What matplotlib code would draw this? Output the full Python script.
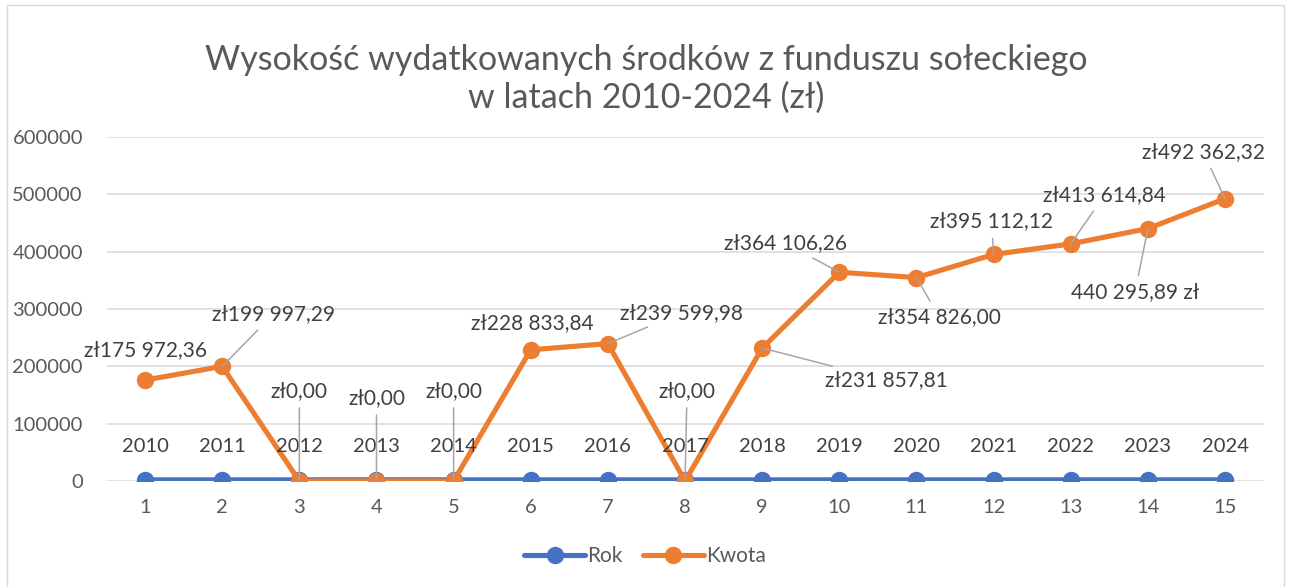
import matplotlib
matplotlib.use("Agg")
import matplotlib.pyplot as plt
from matplotlib.patches import Rectangle

# ---- data ----
idx = list(range(1, 16))
years = [2010, 2011, 2012, 2013, 2014, 2015, 2016, 2017, 2018, 2019, 2020, 2021, 2022, 2023, 2024]
kwota = [175972.36, 199997.29, 0.0, 0.0, 0.0, 228833.84, 239599.98, 0.0,
         231857.81, 364106.26, 354826.00, 395112.12, 413614.84, 440295.89, 492362.32]
kwota_labels = ["zł175 972,36", "zł199 997,29", "zł0,00", "zł0,00", "zł0,00",
                "zł228 833,84", "zł239 599,98", "zł0,00", "zł231 857,81", "zł364 106,26",
                "zł354 826,00", "zł395 112,12", "zł413 614,84", "440 295,89 zł", "zł492 362,32"]
yticks = [0, 100000, 200000, 300000, 400000, 500000, 600000]
title = "Wysokość wydatkowanych środków z funduszu sołeckiego\nw latach 2010-2024 (zł)"

# label offsets in pixels (dx, dy up) and whether a leader line is drawn
offsets = [(0, 30), (51, 52), (0, 90), (0, 83), (0, 90), (2, 27), (74, 31), (2, 90),
           (124, -32), (-54, 29), (23, -40), (-2, 33), (34, 49), (-13, -64), (-22, 47)]
leaders = [False, True, True, True, True, False, True, True,
           True, True, True, True, True, True, True]

plt.rcParams['font.family'] = ['Lato', 'DejaVu Sans']
TXT = '#595959'
LBL = '#404040'
BLUE = '#4472C4'
ORANGE = '#ED7D31'

W, H = 1291, 587
fig = plt.figure(figsize=(W / 100, H / 100), dpi=100)
fig.patches.append(Rectangle((7 / W, -0.01), (1284 - 7) / W, 1 - 5 / H + 0.01,
                             transform=fig.transFigure, fill=False,
                             edgecolor='#D9D9D9', linewidth=1))

ax = fig.add_axes([106.5 / W, 1 - 481 / H, (1263.6 - 106.5) / W, (481 - 137) / H])
ax.set_xlim(0.5, 15.5)
ax.set_ylim(0, 600000)
ax.set_yticks(yticks)
ax.set_yticklabels([str(v) for v in yticks])
ax.set_xticks(idx)
ax.set_xticklabels([str(i) for i in idx])
for s in ax.spines.values():
    s.set_visible(False)
ax.grid(axis='y', color='#D9D9D9', linewidth=1.1)
ax.set_axisbelow(True)
ax.tick_params(axis='both', length=0, labelsize=14.5, colors=TXT)
ax.tick_params(axis='y', pad=17)
ax.tick_params(axis='x', pad=13)

ax.plot(idx, years, color=BLUE, lw=3.7, marker='o', ms=11.5,
        label='Rok', solid_capstyle='round', zorder=3)
ax.plot(idx, kwota, color=ORANGE, lw=3.7, marker='o', ms=11.5, label='Kwota',
        solid_capstyle='round', zorder=4)

for i, yr in zip(idx, years):
    ax.annotate(str(yr), (i, yr), xytext=(0, 33), textcoords='offset pixels',
                ha='center', va='center', fontsize=14.5, color=LBL, zorder=5)

for i, v, t, (dx, dy), ld in zip(idx, kwota, kwota_labels, offsets, leaders):
    ap = dict(arrowstyle='-', color='#A6A6A6', lw=1.1, shrinkA=3, shrinkB=0) if ld else None
    ax.annotate(t, (i, v), xytext=(dx, dy), textcoords='offset pixels',
                ha='center', va='center', fontsize=15, color=LBL, arrowprops=ap, zorder=5)

fig.text(646 / W, 1 - 79 / H, title, ha='center', va='center', fontsize=24.5,
         color=TXT, linespacing=1.2)

leg = fig.legend(loc='center', bbox_to_anchor=(645 / W, 1 - 556 / H), ncol=2,
                 frameon=False, fontsize=15, handlelength=2.9, columnspacing=1.0,
                 handletextpad=0.1, labelcolor=TXT)

fig.savefig('out.png', dpi=100)
